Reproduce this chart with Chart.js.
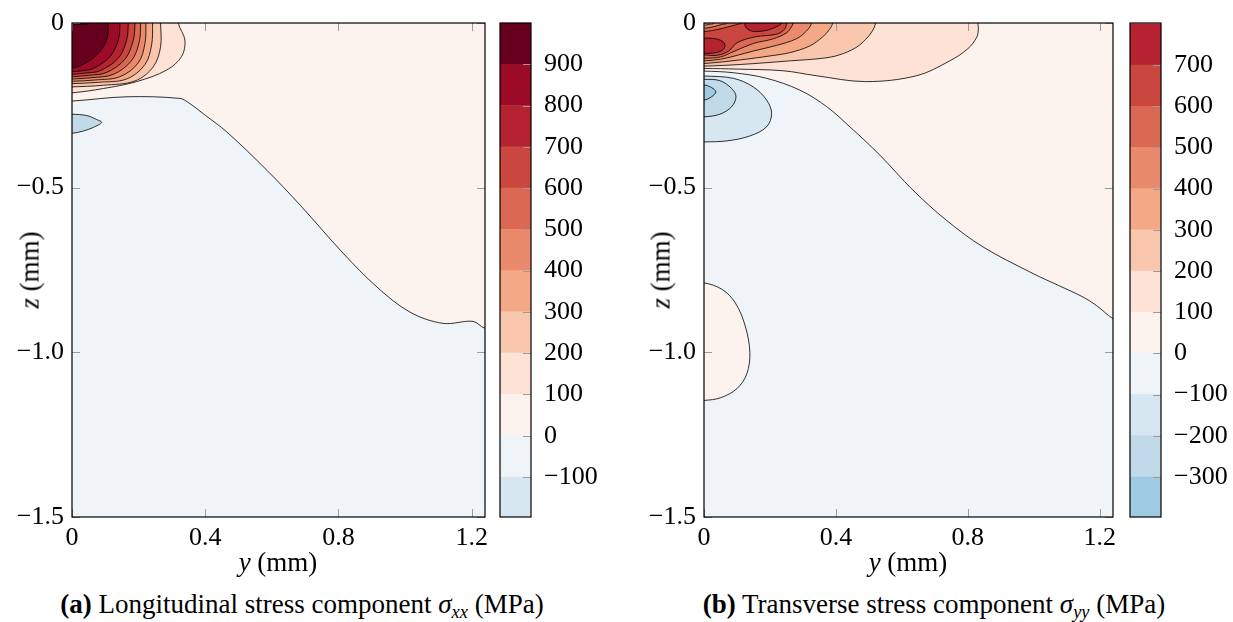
<!DOCTYPE html>
<html>
<head>
<meta charset="utf-8">
<script src="https://cdn.jsdelivr.net/npm/chart.js@4.4.1/dist/chart.umd.min.js"></script>
<style>
  body { margin: 0; width: 1233px; height: 622px; background: #fff; position: relative; overflow: hidden;
         font-family: 'Liberation Serif', 'DejaVu Serif', serif; color: #000; }
  canvas { position: absolute; top: 0; }
  .lbl { position: absolute; font-size: 27px; white-space: nowrap; transform: translate(-50%, -50%); }
  .zlbl { transform: translate(-50%, -50%) rotate(-90deg); }
  .cap { position: absolute; font-size: 27px; white-space: nowrap; transform: translate(-50%, -50%); }
  .cap sub, .lbl sub { font-size: 68%; vertical-align: -0.3em; }
</style>
</head>
<body>
<canvas id="xx-chart" width="495" height="585" style="left:0"></canvas>
<canvas id="xx-bar" width="120" height="540" style="left:495px"></canvas>
<canvas id="yy-chart" width="486" height="585" style="left:632px"></canvas>
<canvas id="yy-bar" width="108" height="540" style="left:1125px"></canvas>

<div class="lbl" style="left:278px; top:562px"><i>y</i> (mm)</div>
<div class="lbl zlbl" style="left:30px; top:270px"><i>z</i> (mm)</div>
<div class="lbl" style="left:908px; top:562px"><i>y</i> (mm)</div>
<div class="lbl zlbl" style="left:661px; top:270px"><i>z</i> (mm)</div>
<div class="cap" style="left:302px; top:606px"><b>(a)</b> Longitudinal stress component <i>σ<sub>xx</sub></i> (MPa)</div>
<div class="cap" style="left:934px; top:606px"><b>(b)</b> Transverse stress component <i>σ<sub>yy</sub></i> (MPa)</div>

<script>
// axes (mm)
const yTicks = [0, 0.4, 0.8, 1.2]
const zTicks = [-1.5, -1.0, -0.5, 0]
const yMax = 1.24

// colour of each 100 MPa band, keyed by its lower edge
const bandColors = {
  '-400': '#9ecbe2', '-300': '#c0dae9', '-200': '#d7e7f1', '-100': '#eef4f8',
  '0': '#fcf3ef', '100': '#fde2d5', '200': '#f9c7ad', '300': '#f5a886',
  '400': '#e98a6d', '500': '#db6852', '600': '#c9473e', '700': '#b52230',
  '800': '#9b0b27', '900': '#67001f'
}

// colorbars
const xxBarEdges = [-200, -100, 0, 100, 200, 300, 400, 500, 600, 700, 800, 900, 1000]
const xxBarTicks = [-100, 0, 100, 200, 300, 400, 500, 600, 700, 800, 900]
const xxBarRange = [-197, 1000]
const yyBarEdges = [-400, -300, -200, -100, 0, 100, 200, 300, 400, 500, 600, 700, 800]
const yyBarTicks = [-300, -200, -100, 0, 100, 200, 300, 400, 500, 600, 700]
const yyBarRange = [-397, 802]

// sigma_xx contour regions, [y, z] in mm (points past the frame close the shape)
const xxZero = [[-0.05, 0.05], [1.3, 0.05], [1.3, -0.93], [1.24, -0.927], [1.204, -0.906], [1.114, -0.912],
  [1.015, -0.878], [0.916, -0.802], [0.814, -0.699], [0.685, -0.553], [0.585, -0.447], [0.465, -0.331],
  [0.40, -0.28], [0.35, -0.242], [0.324, -0.229], [0.165, -0.224], [0, -0.237], [-0.05, -0.237], [-0.05, 0.05]]
const xxNeg100 = [[-0.05, -0.277], [0, -0.277], [0.044, -0.281], [0.074, -0.293], [0.089, -0.302],
  [0.064, -0.317], [0.034, -0.328], [0, -0.335], [-0.05, -0.335], [-0.05, -0.277]]
const xx100 = [[-0.05, 0.05], [0.319, 0.05], [0.319, 0], [0.339, -0.052], [0.329, -0.102], [0.284, -0.143],
  [0.194, -0.178], [0.094, -0.199], [0, -0.212], [-0.05, -0.212], [-0.05, 0.05]]
const xx200 = [[-0.05, 0.05], [0.266, 0.05], [0.266, 0], [0.266, -0.072], [0.244, -0.133], [0.189, -0.176],
  [0.094, -0.189], [0, -0.194], [-0.05, -0.194], [-0.05, 0.05]]
const xx300 = [[-0.05, 0.05], [0.242, 0.05], [0.242, 0], [0.239, -0.067], [0.219, -0.126], [0.164, -0.170],
  [0.08, -0.180], [0, -0.184], [-0.05, -0.184], [-0.05, 0.05]]
const xx400 = [[-0.05, 0.05], [0.222, 0.05], [0.222, 0], [0.219, -0.062], [0.199, -0.121], [0.144, -0.163],
  [0.07, -0.173], [0, -0.177], [-0.05, -0.177], [-0.05, 0.05]]
const xx500 = [[-0.05, 0.05], [0.206, 0.05], [0.206, 0], [0.202, -0.057], [0.179, -0.114], [0.124, -0.156],
  [0.06, -0.166], [0, -0.170], [-0.05, -0.170], [-0.05, 0.05]]
const xx600 = [[-0.05, 0.05], [0.189, 0.05], [0.189, 0], [0.184, -0.052], [0.159, -0.110], [0.104, -0.150],
  [0.05, -0.159], [0, -0.163], [-0.05, -0.163], [-0.05, 0.05]]
const xx700 = [[-0.05, 0.05], [0.169, 0.05], [0.169, 0], [0.164, -0.052], [0.139, -0.107], [0.084, -0.145],
  [0.04, -0.152], [0, -0.156], [-0.05, -0.156], [-0.05, 0.05]]
const xx800 = [[-0.05, 0.05], [0.144, 0.05], [0.144, 0], [0.139, -0.052], [0.114, -0.102], [0.064, -0.138],
  [0.03, -0.145], [0, -0.148], [-0.05, -0.148], [-0.05, 0.05]]
const xx900 = [[-0.05, 0.05], [0.109, 0.05], [0.109, 0], [0.104, -0.052], [0.074, -0.097], [0.034, -0.125],
  [0, -0.137], [-0.05, -0.137], [-0.05, 0.05]]
const xx1000 = [[-0.05, 0.05], [0.054, 0.05], [0.054, 0], [0.035, -0.004], [0.015, -0.004], [0, -0.003],
  [-0.05, -0.003], [-0.05, 0.05]]

// sigma_yy contour regions
const yyZero = [[-0.05, 0.05], [1.3, 0.05], [1.3, -0.93], [1.24, -0.898], [1.19, -0.858], [1.149, -0.832],
  [1.075, -0.797], [0.998, -0.761], [0.846, -0.680], [0.735, -0.599], [0.634, -0.508], [0.533, -0.401],
  [0.442, -0.315], [0.372, -0.254], [0.291, -0.204], [0.19, -0.168], [0.089, -0.151], [0, -0.146],
  [-0.05, -0.146], [-0.05, 0.05]]
const yyZeroLow = [[-0.05, -0.789], [0, -0.789], [0.055, -0.809], [0.095, -0.85], [0.125, -0.92], [0.139, -1.0],
  [0.13, -1.065], [0.1, -1.11], [0.05, -1.138], [0, -1.146], [-0.05, -1.146], [-0.05, -0.789]]
const yyNeg100 = [[-0.05, -0.161], [0, -0.161], [0.089, -0.168], [0.149, -0.194], [0.19, -0.234], [0.205, -0.275],
  [0.19, -0.315], [0.139, -0.343], [0.069, -0.358], [0, -0.361], [-0.05, -0.361], [-0.05, -0.161]]
const yyNeg200 = [[-0.05, -0.171], [0, -0.171], [0.048, -0.175], [0.084, -0.199], [0.097, -0.224],
  [0.084, -0.254], [0.048, -0.277], [0, -0.285], [-0.05, -0.285], [-0.05, -0.171]]
const yyNeg300 = [[-0.05, -0.188], [0, -0.188], [0.023, -0.196], [0.036, -0.209], [0.023, -0.224],
  [0, -0.234], [-0.05, -0.234], [-0.05, -0.188]]
const yy100 = [[-0.05, 0.05], [0.83, 0.05], [0.83, 0], [0.832, -0.015], [0.827, -0.043], [0.80, -0.078],
  [0.745, -0.115], [0.645, -0.16], [0.49, -0.178], [0.34, -0.16], [0.24, -0.145], [0.1, -0.14], [0, -0.138],
  [-0.05, -0.138], [-0.05, 0.05]]
const yy200 = [[-0.05, 0.05], [0.52, 0.05], [0.52, 0], [0.51, -0.025], [0.49, -0.05], [0.46, -0.075],
  [0.41, -0.097], [0.36, -0.107], [0.26, -0.115], [0.11, -0.126], [0, -0.131], [-0.05, -0.131], [-0.05, 0.05]]
const yy300 = [[-0.05, 0.05], [0.39, 0.05], [0.39, 0], [0.38, -0.02], [0.36, -0.042], [0.32, -0.07],
  [0.26, -0.09], [0.2, -0.1], [0.11, -0.112], [0, -0.123], [-0.05, -0.123], [-0.05, 0.05]]
const yy400 = [[-0.05, -0.007], [0, -0.007], [0.015, -0.004], [0.03, 0], [0.03, 0.05], [0.326, 0.05], [0.326, 0],
  [0.31, -0.025], [0.28, -0.048], [0.22, -0.068], [0.15, -0.085], [0.094, -0.1], [0.05, -0.11], [0, -0.115],
  [-0.05, -0.115], [-0.05, -0.007]]
const yy500 = [[-0.05, -0.016], [0, -0.016], [0.03, -0.011], [0.055, -0.004], [0.07, 0], [0.07, 0.05],
  [0.27, 0.05], [0.27, 0], [0.265, -0.012], [0.25, -0.03], [0.21, -0.048], [0.15, -0.062], [0.094, -0.085],
  [0.05, -0.103], [0, -0.107], [-0.05, -0.107], [-0.05, -0.016]]
const yy600 = [[-0.05, -0.026], [0, -0.026], [0.04, -0.02], [0.08, -0.01], [0.105, -0.003], [0.115, 0],
  [0.115, 0.05], [0.25, 0.05], [0.25, 0], [0.245, -0.018], [0.22, -0.034], [0.155, -0.042], [0.1, -0.06],
  [0.075, -0.085], [0.04, -0.098], [0, -0.097], [-0.05, -0.097], [-0.05, -0.026]]
const yy700Side = [[-0.05, -0.046], [0, -0.046], [0.03, -0.047], [0.055, -0.055], [0.064, -0.068],
  [0.055, -0.083], [0.03, -0.091], [0, -0.092], [-0.05, -0.092], [-0.05, -0.046]]
const yy700Top = [[0.124, 0.05], [0.124, 0], [0.126, -0.012], [0.14, -0.023], [0.16, -0.026], [0.195, -0.021],
  [0.225, -0.009], [0.235, 0], [0.235, 0.05], [0.124, 0.05]]

// region list, drawn bottom to top: [outline, band]
const xxRegions = [[xxZero, '0'], [xxNeg100, '-300'], [xx100, '100'], [xx200, '200'], [xx300, '300'],
  [xx400, '400'], [xx500, '500'], [xx600, '600'], [xx700, '700'], [xx800, '800'], [xx900, '900'], [xx1000, '900']]
const yyRegions = [[yyZero, '0'], [yyZeroLow, '0'], [yyNeg100, '-200'], [yyNeg200, '-300'], [yyNeg300, '-400'],
  [yy100, '100'], [yy200, '200'], [yy300, '300'], [yy400, '400'], [yy500, '500'], [yy600, '600'],
  [yy700Side, '700'], [yy700Top, '700']]

const FONT = "'Liberation Serif', 'DejaVu Serif', serif"
Chart.defaults.color = '#000'
Chart.defaults.font.family = FONT
const tickFont = { family: FONT, size: 26 }
const MINUS = '\u2212'

function fmtMm(v) {
  if (v === 0) return '0'
  return (v < 0 ? MINUS : '') + Math.abs(v).toFixed(1)
}
function fmtMpa(v) {
  return (v < 0 ? MINUS : '') + Math.abs(v)
}

// frame, inner tick marks and background of each plot
const panelPlugin = {
  id: 'panel',
  beforeDatasetsDraw(chart, args, opts) {
    if (!opts.base) return
    const a = chart.chartArea, ctx = chart.ctx
    ctx.save()
    ctx.fillStyle = opts.base
    ctx.fillRect(a.left, a.top, a.right - a.left, a.bottom - a.top)
    ctx.restore()
  },
  afterDatasetsDraw(chart, args, opts) {
    const a = chart.chartArea, ctx = chart.ctx
    const len = 8
    const seg = (x1, y1, x2, y2) => { ctx.beginPath(); ctx.moveTo(x1, y1); ctx.lineTo(x2, y2); ctx.stroke() }
    ctx.save()
    ctx.strokeStyle = '#9c9c9c'
    ctx.lineWidth = 1
    if (opts.mode === 'plot') {
      chart.scales.x.ticks.forEach(t => {
        const px = Math.round(chart.scales.x.getPixelForValue(t.value)) + 0.5
        seg(px, a.bottom, px, a.bottom - len)
        seg(px, a.top, px, a.top + len)
      })
      chart.scales.y.ticks.forEach(t => {
        const py = Math.round(chart.scales.y.getPixelForValue(t.value)) + 0.5
        seg(a.left, py, a.left + len, py)
        seg(a.right, py, a.right - len, py)
      })
    } else {
      chart.scales.y.ticks.forEach(t => {
        const py = Math.round(chart.scales.y.getPixelForValue(t.value)) + 0.5
        seg(a.right - len, py, a.right, py)
      })
    }
    ctx.strokeStyle = '#000'
    ctx.lineWidth = 1.2
    ctx.strokeRect(a.left, a.top, a.right - a.left, a.bottom - a.top)
    ctx.restore()
  }
}

// keep the chart area exactly where the frame is, no label overflow padding
function fixSize(s, w, h) {
  if (w !== undefined) s.width = w
  if (h !== undefined) s.height = h
  s.paddingTop = 0
  s.paddingBottom = 0
  s.paddingLeft = 0
  s.paddingRight = 0
}

function contourChart(id, regions, rightPad) {
  const datasets = regions.map(([pts, band], i) => ({
    data: pts.map(([y, z]) => ({ x: y, y: z })),
    showLine: true,
    fill: 'shape',
    backgroundColor: bandColors[band],
    borderColor: '#000',
    borderWidth: 0.8,
    pointRadius: 0,
    pointHoverRadius: 0,
    tension: 0.35,
    order: -i
  }))
  return new Chart(document.getElementById(id), {
    type: 'scatter',
    data: { datasets },
    plugins: [panelPlugin],
    options: {
      responsive: false,
      animation: false,
      events: [],
      layout: { padding: { top: 23, right: rightPad, left: 0, bottom: 0 } },
      plugins: {
        legend: { display: false },
        tooltip: { enabled: false },
        panel: { base: bandColors['-100'], mode: 'plot' }
      },
      scales: {
        x: {
          type: 'linear', min: 0, max: yMax,
          afterBuildTicks: s => { s.ticks = yTicks.map(v => ({ value: v })) },
          afterFit: s => fixSize(s, undefined, 68),
          grid: { display: false, drawTicks: false },
          border: { display: false },
          ticks: { font: tickFont, padding: 6, maxRotation: 0, callback: v => v === 0 ? '0' : v.toFixed(1) }
        },
        y: {
          type: 'linear', min: -1.5, max: 0,
          afterBuildTicks: s => { s.ticks = zTicks.map(v => ({ value: v })) },
          afterFit: s => fixSize(s, 72),
          grid: { display: false, drawTicks: false },
          border: { display: false },
          ticks: { font: tickFont, padding: 8, callback: v => fmtMm(v) }
        }
      }
    }
  })
}

function colorBar(id, edges, ticks, range, axisWidth) {
  const datasets = edges.slice(0, -1).map((lo, i) => ({
    data: [[lo, edges[i + 1]]],
    backgroundColor: bandColors[String(lo)],
    borderWidth: 0,
    barPercentage: 1,
    categoryPercentage: 1,
    grouped: false
  }))
  return new Chart(document.getElementById(id), {
    type: 'bar',
    data: { labels: [''], datasets },
    plugins: [panelPlugin],
    options: {
      responsive: false,
      animation: false,
      events: [],
      layout: { padding: { top: 23, right: 0, left: 5, bottom: 23 } },
      plugins: {
        legend: { display: false },
        tooltip: { enabled: false },
        panel: { mode: 'bar' }
      },
      scales: {
        x: { display: false },
        y: {
          position: 'right', min: range[0], max: range[1],
          afterBuildTicks: s => { s.ticks = ticks.map(v => ({ value: v })) },
          afterFit: s => fixSize(s, axisWidth),
          grid: { display: false, drawTicks: false },
          border: { display: false },
          ticks: { font: tickFont, padding: 13, callback: v => fmtMpa(v) }
        }
      }
    }
  })
}

contourChart('xx-chart', xxRegions, 10)
colorBar('xx-bar', xxBarEdges, xxBarTicks, xxBarRange, 84)
contourChart('yy-chart', yyRegions, 5)
colorBar('yy-bar', yyBarEdges, yyBarTicks, yyBarRange, 72)
</script>
</body>
</html>
